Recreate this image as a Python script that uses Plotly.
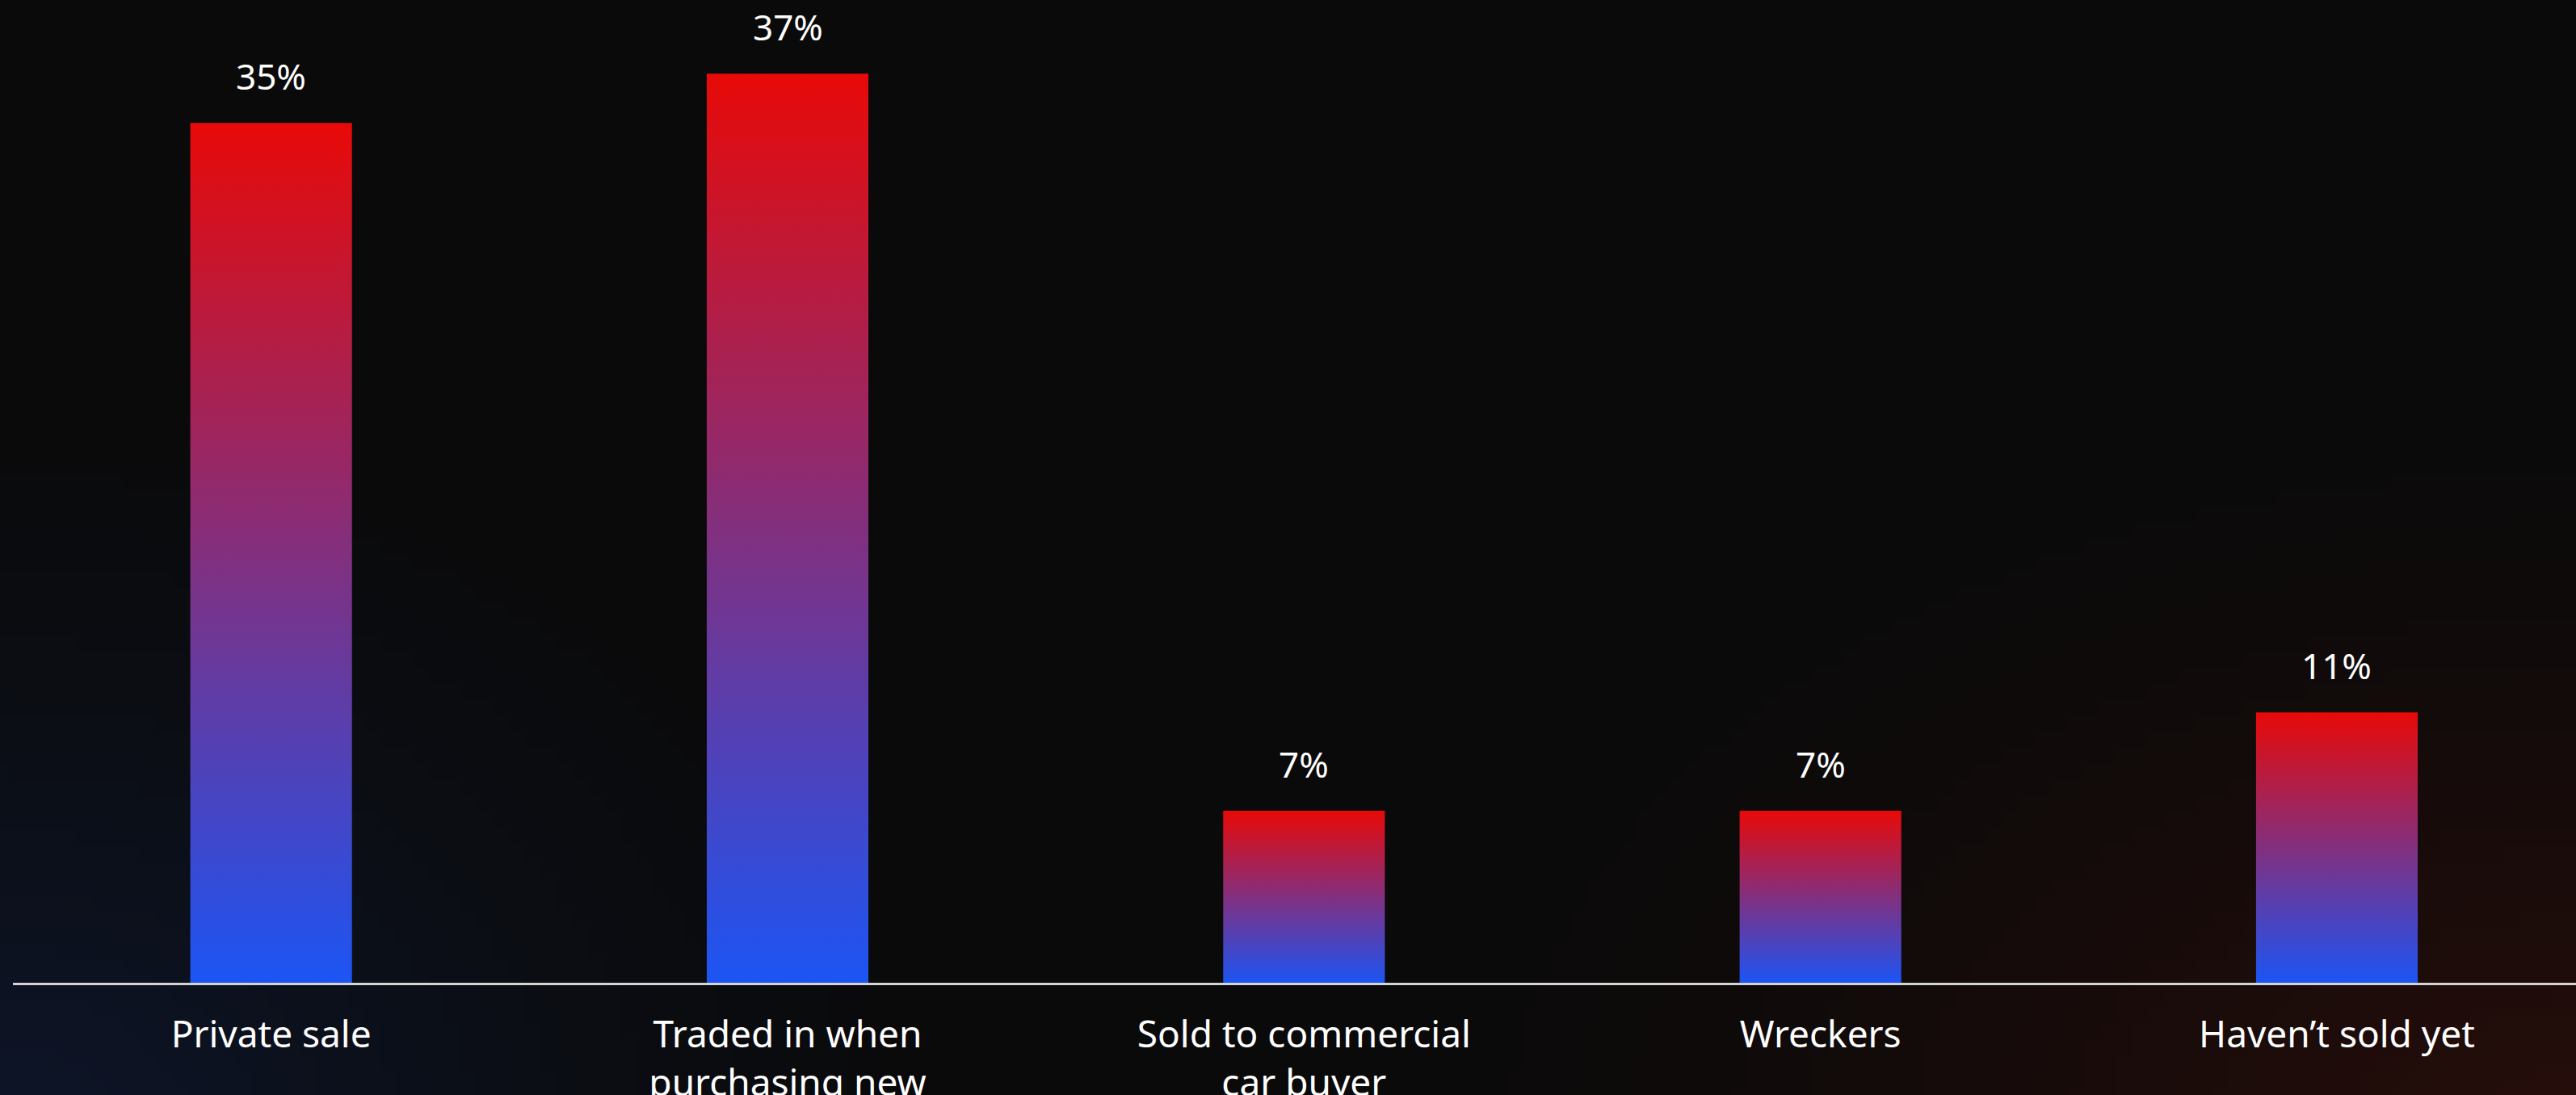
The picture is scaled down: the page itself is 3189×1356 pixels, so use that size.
import base64
import struct
import zlib

import numpy as np
import plotly.graph_objects as go

# Survey: how people disposed of their previous car
categories = [
    "Private sale",
    "Traded in when<br>purchasing new",
    "Sold to commercial<br>car buyer",
    "Wreckers",
    "Haven\u2019t sold yet",
]
shares = [35, 37, 7, 7, 11]
value_labels = ["35%", "37%", "7%", "7%", "11%"]

WIDTH, HEIGHT = 3189, 1356
BAR_WIDTH = 0.313
TOP_RED = "#E80A08"
BOTTOM_BLUE = "#1C55F4"
FONT = "Noto Sans"


def png_data_uri(rgb):
    """Encode an (h, w, 3) uint8 array as a PNG data URI."""
    h, w, _ = rgb.shape
    raw = b"".join(b"\x00" + rgb[r].tobytes() for r in range(h))

    def chunk(tag, data):
        c = struct.pack(">I", len(data)) + tag + data
        return c + struct.pack(">I", zlib.crc32(tag + data) & 0xFFFFFFFF)

    png = b"\x89PNG\r\n\x1a\n"
    png += chunk(b"IHDR", struct.pack(">IIBBBBB", w, h, 8, 2, 0, 0, 0))
    png += chunk(b"IDAT", zlib.compress(raw, 9))
    png += chunk(b"IEND", b"")
    return "data:image/png;base64," + base64.b64encode(png).decode()


def backdrop():
    """Near-black backdrop with a navy glow bottom-left and a maroon glow bottom-right."""
    gw, gh = 160, 68
    xs = np.linspace(0, 1, gw)[None, :]
    ys = np.linspace(0, 1, gh)[:, None]
    base = np.array([10, 10, 10], float)

    def glow(cx, cy, rx, ry, power):
        d = np.sqrt(((xs - cx) / rx) ** 2 + ((ys - cy) / ry) ** 2)
        return np.clip(1 - d, 0, 1) ** power

    blue = glow(0.0, 1.05, 0.40, 0.75, 1.4)[..., None] * np.array([4, 12, 32], float)
    red = glow(1.0, 1.05, 0.50, 0.75, 1.5)[..., None] * np.array([30, 4, 0], float)
    img = base + blue + red
    return png_data_uri(np.clip(img, 0, 255).astype(np.uint8))


fig = go.Figure()

# Each bar is a filled rectangle whose fill runs blue (base) to red (top)
for i, v in enumerate(shares):
    x0, x1 = i - BAR_WIDTH / 2, i + BAR_WIDTH / 2
    fig.add_trace(
        go.Scatter(
            x=[x0, x1, x1, x0, x0],
            y=[0, 0, v, v, 0],
            mode="lines",
            line=dict(width=0, color="rgba(0,0,0,0)"),
            fill="toself",
            fillgradient=dict(
                type="vertical",
                colorscale=[[0, BOTTOM_BLUE], [1, TOP_RED]],
            ),
            hoverinfo="skip",
            showlegend=False,
        )
    )

# Value labels above each bar
for i, (v, lab) in enumerate(zip(shares, value_labels)):
    fig.add_annotation(
        x=i,
        y=v,
        text=lab,
        showarrow=False,
        yanchor="bottom",
        yshift=26,
        font=dict(family=FONT, size=44, color="#ffffff"),
    )

plot_left = 16
plot_bottom = 139
plot_w = WIDTH - plot_left
plot_h = HEIGHT - plot_bottom

fig.add_layout_image(
    dict(
        source=backdrop(),
        xref="paper",
        yref="paper",
        x=-plot_left / plot_w,
        y=1,
        sizex=WIDTH / plot_w,
        sizey=HEIGHT / plot_h,
        xanchor="left",
        yanchor="top",
        sizing="stretch",
        layer="below",
    )
)

fig.update_layout(
    width=WIDTH,
    height=HEIGHT,
    margin=dict(l=plot_left, r=0, t=0, b=plot_bottom, pad=0),
    paper_bgcolor="#0a0a0a",
    plot_bgcolor="rgba(0,0,0,0)",
    font=dict(family=FONT, color="#ffffff"),
    xaxis=dict(
        # the last category sits slightly past the right edge of the page
        range=[-0.5, 4.463],
        tickmode="array",
        tickvals=list(range(len(categories))),
        ticktext=categories,
        tickfont=dict(family=FONT, size=46, color="#ffffff"),
        showgrid=False,
        zeroline=False,
        showline=True,
        linecolor="#d4d4d4",
        linewidth=3,
        ticks="",
        ticklabelstandoff=22,
        automargin=False,
        fixedrange=True,
    ),
    yaxis=dict(
        range=[0, 40],
        visible=False,
        showgrid=False,
        zeroline=False,
        automargin=False,
        fixedrange=True,
    ),
    showlegend=False,
)

fig.write_html("out.html", config={"displayModeBar": False})
